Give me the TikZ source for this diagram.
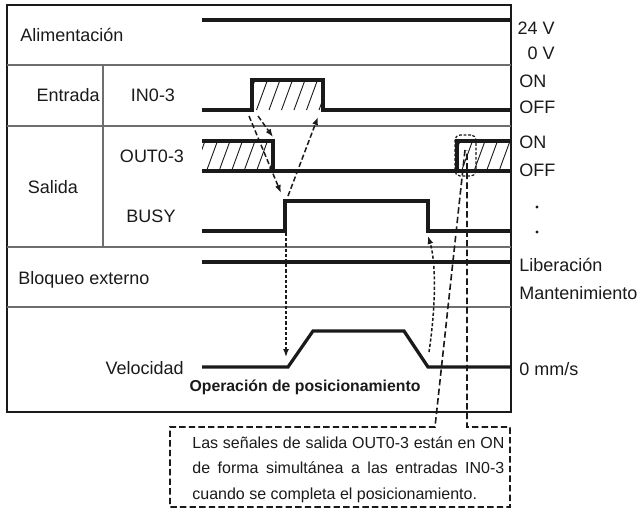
\documentclass[tikz,border=0pt]{standalone}
\usepackage{fontspec}
\setmainfont{Liberation Sans}
\usetikzlibrary{arrows.meta,positioning,calc}
\definecolor{ink}{HTML}{1A1A1A}
\definecolor{rulegray}{HTML}{6E6E6E}
\tikzset{
  sigline/.style={draw=ink,line width=1.6pt},
  frameline/.style={draw=ink,line width=0.7pt},
  rowline/.style={draw=rulegray,line width=0.6pt},
  hatchline/.style={draw=ink,line width=0.45pt},
  rowtext/.style={font=\fontsize{9}{11}\selectfont,inner sep=0pt,text=ink},
  causearr/.style={-{Latex[length=4pt,width=3pt]},draw=ink,line width=0.75pt,
                   dash pattern=on 2.6pt off 1.3pt},
  finearr/.style={-{Latex[length=4pt,width=3pt]},draw=ink,line width=0.75pt,
                  dash pattern=on 1.6pt off 1pt},
  noteline/.style={draw=ink,line width=0.8pt,dash pattern=on 3.2pt off 1.6pt},
  markbox/.style={draw=ink,line width=0.6pt,dash pattern=on 1.4pt off 0.9pt,
                  rounded corners=2.5pt,minimum width=10.5pt,minimum height=20.5pt,
                  inner sep=0pt},
  notetext/.style={font=\fontsize{8}{12.8}\selectfont,text width=156pt,
                   align=justify,inner sep=0pt,text=ink},
  optext/.style={font=\bfseries\fontsize{7.9}{9}\selectfont,inner sep=0pt,text=ink},
  dotmark/.style={circle,fill=ink,inner sep=0pt,minimum size=1.6pt}
}
% hatched area: left, top, right, bottom
\newcommand{\hatchbox}[4]{%
  \begin{scope}
    \clip (#1,#2) rectangle (#3,#4);
    \foreach \k in {0,...,7}
      \draw[hatchline] ({#1-8+\k*12.5},#4) -- ++(11,-30);
  \end{scope}}

\begin{document}
\begin{tikzpicture}[x=0.5pt,y=-0.5pt]
  \useasboundingbox (0,0) rectangle (642,509);

  % table
  \draw[frameline] (7,5) rectangle (511,412);
  \foreach \ry in {65,126,247,307} \draw[rowline] (7,\ry) -- (511,\ry);
  \draw[rowline] (103,65) -- (103,247);

  % row names
  \node[rowtext,anchor=base west] (alim) at (20,41.5) {Alimentación};
  \node[rowtext,anchor=base east] (entr) at (100,101.5) {Entrada};
  \node[rowtext,anchor=base] (inlab) at (153,101.5) {IN0-3};
  \node[rowtext,anchor=base] (sal) at (53,193) {Salida};
  \node[rowtext,anchor=base] (outlab) at (152,162) {OUT0-3};
  \node[rowtext,anchor=base] (busylab) at (151,222) {BUSY};
  \node[rowtext,anchor=base west] (bloq) at (18,284) {Bloqueo externo};
  \node[rowtext,anchor=base east] (vel) at (184,374) {Velocidad};

  % levels
  \node[rowtext,anchor=base east] (v24) at (555,34) {24 V};
  \node[rowtext,anchor=base east] (v0) at (555,59) {0 V};
  \node[rowtext,anchor=base west] (inon) at (519,87) {ON};
  \node[rowtext,anchor=base west] (inoff) at (519,113) {OFF};
  \node[rowtext,anchor=base west] (outon) at (519,148) {ON};
  \node[rowtext,anchor=base west] (outoff) at (519,176) {OFF};
  \node[dotmark] (busyhi) at (537,207) {};
  \node[dotmark] (busylo) at (537,232) {};
  \node[rowtext,anchor=base west] (libr) at (519,271) {Liberación};
  \node[rowtext,anchor=base west] (mant) at (519,299) {Mantenimiento};
  \node[rowtext,anchor=base west] (vzero) at (519,375) {0 mm/s};
  \node[optext,anchor=base] (oper) at (305,391) {Operación de posicionamiento};

  % waveforms
  \hatchbox{252}{80}{323}{110}
  \hatchbox{202}{141}{273}{171}
  \hatchbox{457}{141}{511}{171}
  \draw[sigline] (202,20) -- (511,20);
  \draw[sigline] (202,110) -- (252,110) -- (252,80) -- (323,80) -- (323,110) -- (511,110);
  \draw[sigline] (202,141) -- (273,141) -- (273,171);
  \draw[sigline] (202,171) -- (511,171);
  \draw[sigline] (511,141) -- (457,141) -- (457,171);
  \draw[sigline] (202,231) -- (285,231) -- (285,201) -- (428,201) -- (428,231) -- (511,231);
  \draw[sigline] (202,262) -- (511,262);
  \draw[sigline] (202,367) -- (288,367) -- (313,331) -- (404,331) -- (428,367) -- (511,367);

  % timing marks
  \coordinate (inriseA) at (258,116);
  \coordinate (inriseB) at (249,116);
  \coordinate (outfall) at (273,137);
  \coordinate (busyrise) at (281,193);
  \coordinate (busytop) at (288,196);
  \coordinate (infall) at (318,117);
  \coordinate (busyfoot) at (286,233);
  \coordinate (velstart) at (286,357);
  \coordinate (velstop) at (429,352);
  \coordinate (busyfall) at (428,236);
  \draw[causearr] (inriseA) -- (outfall);
  \draw[causearr] (inriseB) -- (busyrise);
  \draw[causearr] (busytop) -- (infall);
  \draw[finearr] (busyfoot) -- (velstart);
  \draw[finearr] (velstop) .. controls (436,305) and (436,262) .. (busyfall);

  % note
  \node[markbox] (mark) at (465.5,155.5) {};
  \node[notetext,anchor=north west] (note) at (192,436)
    {Las señales de salida OUT0-3 están en ON\linebreak
     de forma simultánea a las entradas IN0-3\linebreak
     cuando se completa el posicionamiento.};
  \coordinate (tapL) at (435,427);
  \coordinate (tapR) at (467,427);
  \draw[noteline] (465,150) -- (tapL) -- (170,427) -- (170,507) -- (510,507)
    -- (510,427) -- (tapR) -- (467,150);
\end{tikzpicture}
\end{document}
